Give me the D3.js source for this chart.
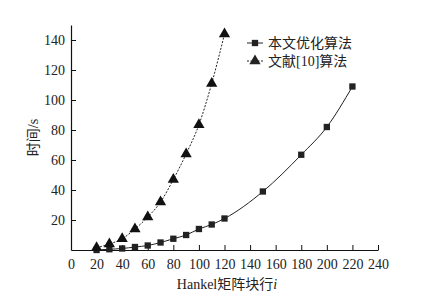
<!DOCTYPE html>
<html>
<head>
<meta charset="utf-8">
<script src="https://cdn.jsdelivr.net/npm/d3@7"></script>
<style>
  body { margin: 0; background: #fff; }
  text { fill: #222; }
</style>
</head>
<body>
<svg id="chart" width="423" height="305"></svg>
<script>
// data
const xsOurs = [20, 30, 40, 50, 60, 70, 80, 90, 100, 110, 120, 150, 180, 200, 220];
const ysOurs = [0, 0.5, 1, 2, 3, 5, 7.5, 10, 14, 17, 21, 39, 63.5, 82, 109];
const xsRef = [20, 30, 40, 50, 60, 70, 80, 90, 100, 110, 120];
const ysRef = [1.5, 4, 7.5, 14, 22, 32, 47, 64, 83.5, 111, 144];
const xTicks = [0, 20, 40, 60, 80, 100, 120, 140, 160, 180, 200, 220, 240];
const yTicks = [20, 40, 60, 80, 100, 120, 140];
const seriesNames = ["本文优化算法", "文献[10]算法"];

const serif = "'Liberation Serif','DejaVu Serif',serif";
const cjk = "'Liberation Serif','Noto Sans CJK SC',serif";

const svg = d3.select("#chart");
const x = d3.scaleLinear().domain([0, 240]).range([71, 378]);
const y = d3.scaleLinear().domain([0, 150]).range([250, 25]);

// axes, ticks pointing inward
const xAxis = svg.append("g").attr("transform", `translate(0,${y(0)})`)
  .call(d3.axisBottom(x).tickValues(xTicks).tickSizeInner(-5).tickSizeOuter(0).tickPadding(9));
const yAxis = svg.append("g").attr("transform", `translate(${x(0)},0)`)
  .call(d3.axisLeft(y).tickValues(yTicks).tickSizeInner(-5).tickSizeOuter(0).tickPadding(6));
[xAxis, yAxis].forEach(g => {
  g.select(".domain").attr("stroke", "#111").attr("stroke-width", 1.2);
  g.selectAll(".tick line").attr("stroke", "#111");
  g.selectAll(".tick text").attr("font-family", serif).attr("font-size", 14).attr("fill", "#222");
});

const line = d3.line().x(d => x(d[0])).y(d => y(d[1])).curve(d3.curveMonotoneX);
const ours = xsOurs.map((v, i) => [v, ysOurs[i]]);
const ref = xsRef.map((v, i) => [v, ysRef[i]]);

svg.append("path").attr("d", line(ref)).attr("fill", "none")
  .attr("stroke", "#222").attr("stroke-width", 1).attr("stroke-dasharray", "2,1.5");
svg.append("path").attr("d", line(ours)).attr("fill", "none")
  .attr("stroke", "#222").attr("stroke-width", 1);

const sq = d3.symbol().type(d3.symbolSquare).size(40);
const tri = d3.symbol().type(d3.symbolTriangle).size(55);

svg.selectAll(".sq").data(ours).join("path").attr("class", "sq")
  .attr("d", sq).attr("transform", d => `translate(${x(d[0])},${y(d[1])})`).attr("fill", "#222");
svg.selectAll(".tri").data(ref).join("path").attr("class", "tri")
  .attr("d", tri).attr("transform", d => `translate(${x(d[0])},${y(d[1])})`).attr("fill", "#111");

// legend
const legend = svg.append("g").attr("transform", "translate(247,43)");
seriesNames.forEach((name, i) => {
  const g = legend.append("g").attr("transform", `translate(0,${i * 18})`);
  g.append("line").attr("x1", 0).attr("x2", 16).attr("stroke", "#222")
    .attr("stroke-dasharray", i ? "2,1.5" : null);
  g.append("path").attr("d", i ? tri : sq).attr("transform", "translate(8,0)").attr("fill", "#222");
  g.append("text").attr("x", 21).attr("y", 5).attr("font-family", cjk).attr("font-size", 14).text(name);
});

// axis titles
svg.append("text").attr("transform", `translate(38,${(y(0) + y(150)) / 2}) rotate(-90)`)
  .attr("text-anchor", "middle").attr("font-family", cjk).attr("font-size", 14).text("时间/s");
const xl = svg.append("text").attr("x", 227).attr("y", 289).attr("text-anchor", "middle")
  .attr("font-family", cjk).attr("font-size", 14);
xl.append("tspan").text("Hankel矩阵块行");
xl.append("tspan").attr("font-style", "italic").text("i");
</script>
</body>
</html>
